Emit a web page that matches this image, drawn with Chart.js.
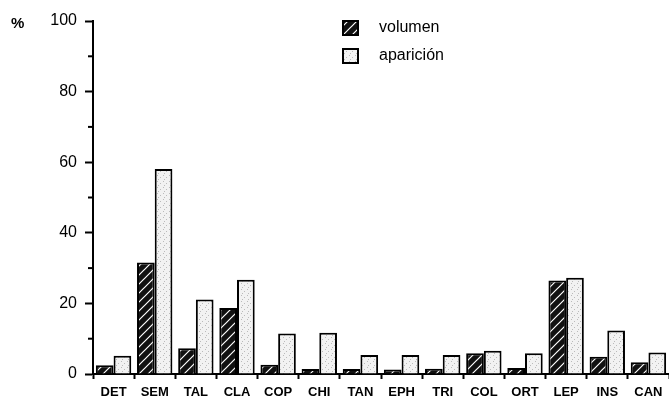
<!DOCTYPE html>
<html>
<head>
<meta charset="utf-8">
<script src="https://cdn.jsdelivr.net/npm/chart.js@4"></script>
<style>
  html, body { margin: 0; padding: 0; background: #fff; }
  #wrap { width: 669px; height: 403px; }
</style>
</head>
<body>
<div id="wrap"><canvas id="chart1"></canvas></div>
<script>
var categories = ['DET', 'SEM', 'TAL', 'CLA', 'COP', 'CHI', 'TAN', 'EPH', 'TRI', 'COL', 'ORT', 'LEP', 'INS', 'CAN']
var volumen = [2.5, 31.6, 7.3, 18.7, 2.6, 1.4, 1.4, 1.3, 1.5, 5.9, 1.7, 26.5, 4.9, 3.3]
var aparicion = [5.2, 58.1, 21.1, 26.7, 11.5, 11.7, 5.4, 5.4, 5.4, 6.6, 5.9, 27.3, 12.3, 6.1]
var yTicks = [0, 20, 40, 60, 80, 100]

var fontFamily = '"Liberation Sans", Arial, sans-serif'

// black with white diagonal stripes
function hatchPattern() {
    var c = document.createElement('canvas')
    c.width = 9; c.height = 9
    var g = c.getContext('2d')
    g.fillStyle = '#111'
    g.fillRect(0, 0, 9, 9)
    g.strokeStyle = '#fff'
    g.lineWidth = 1.2
    g.beginPath()
    g.moveTo(0, 9); g.lineTo(9, 0)
    g.moveTo(-4.5, 4.5); g.lineTo(4.5, -4.5)
    g.moveTo(4.5, 13.5); g.lineTo(13.5, 4.5)
    g.stroke()
    return g.createPattern(c, 'repeat')
}

// light stipple
function dotPattern() {
    var c = document.createElement('canvas')
    c.width = 6; c.height = 6
    var g = c.getContext('2d')
    g.fillStyle = '#f2f2f2'
    g.fillRect(0, 0, 6, 6)
    g.fillStyle = '#bbb'
    g.fillRect(1, 1, 1, 1)
    g.fillRect(4, 3, 1, 1)
    g.fillRect(2, 5, 1, 1)
    return g.createPattern(c, 'repeat')
}

var hatch = hatchPattern()
var dots = dotPattern()

var extras = {
    id: 'extras',
    afterDraw: function(chart) {
        var ctx = chart.ctx
        var y = chart.scales.y
        var left = chart.chartArea.left
        ctx.save()
        // minor ticks
        ctx.strokeStyle = '#000'
        ctx.lineWidth = 2
        ;[10, 30, 50, 70, 90].forEach(function(v) {
            var py = y.getPixelForValue(v)
            ctx.beginPath()
            ctx.moveTo(left - 5, py)
            ctx.lineTo(left, py)
            ctx.stroke()
        })
        // % sign
        ctx.fillStyle = '#000'
        ctx.font = 'bold 15px ' + fontFamily
        ctx.textBaseline = 'middle'
        ctx.fillText('%', 11, 24)
        // legend
        var items = [
            { text: 'volumen', fill: hatch, y: 28 },
            { text: 'aparición', fill: dots, y: 56 }
        ]
        items.forEach(function(it) {
            ctx.fillStyle = it.fill
            ctx.fillRect(343, it.y - 7, 15, 14)
            ctx.lineWidth = 2
            ctx.strokeStyle = '#000'
            ctx.strokeRect(343, it.y - 7, 15, 14)
            ctx.fillStyle = '#000'
            ctx.font = '16px ' + fontFamily
            ctx.fillText(it.text, 379, it.y)
        })
        ctx.restore()
    }
}

var dataChart1 = {
    labels: categories,
    datasets: [
        {
            label: 'volumen',
            backgroundColor: hatch,
            borderColor: '#000',
            borderWidth: 2,
            data: volumen
        },
        {
            label: 'aparición',
            backgroundColor: dots,
            borderColor: '#000',
            borderWidth: 2,
            data: aparicion
        }
    ]
}

var configChart1 = {
    type: 'bar',
    data: dataChart1,
    options: {
        responsive: true,
        maintainAspectRatio: false,
        animation: false,
        datasets: {
            bar: { categoryPercentage: 0.86, barPercentage: 1 }
        },
        layout: { padding: { top: 21, right: 0, left: 0, bottom: 0 } },
        scales: {
            x: {
                afterFit: function(scale) { scale.height = 29 },
                grid: {
                    drawOnChartArea: false,
                    offset: true,
                    tickLength: 5,
                    tickWidth: 2,
                    tickColor: '#000'
                },
                border: { color: '#000', width: 2 },
                ticks: {
                    color: '#000',
                    padding: 6,
                    maxRotation: 0,
                    autoSkip: false,
                    font: { family: fontFamily, size: 13, weight: 'bold' }
                }
            },
            y: {
                min: 0,
                max: 100,
                afterFit: function(scale) { scale.width = 93 },
                afterBuildTicks: function(scale) {
                    scale.ticks = yTicks.map(function(v) { return { value: v } })
                },
                grid: {
                    drawOnChartArea: false,
                    tickLength: 8,
                    tickWidth: 2,
                    tickColor: '#000'
                },
                border: { color: '#000', width: 2 },
                ticks: {
                    color: '#000',
                    padding: 8,
                    font: { family: fontFamily, size: 16 }
                }
            }
        },
        plugins: {
            legend: { display: false },
            tooltip: { enabled: false }
        }
    },
    plugins: [extras]
};

var chart1 = new Chart(
    document.getElementById('chart1'),
    configChart1
);
</script>
</body>
</html>
